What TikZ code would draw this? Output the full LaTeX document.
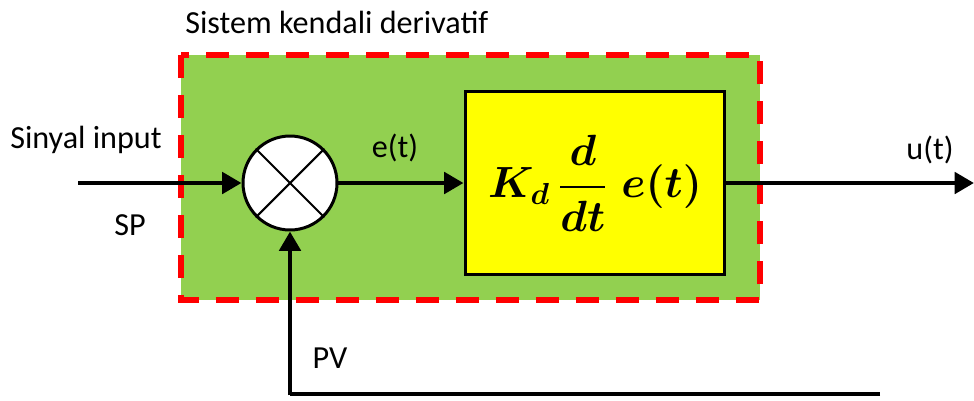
\documentclass[tikz,border=0pt]{standalone}
\usepackage{fontspec}
\setmainfont{Carlito}
\usepackage{amsmath}
\usetikzlibrary{positioning}
\usetikzlibrary{arrows.meta}
\definecolor{green}{RGB}{146,208,80}
\definecolor{red}{RGB}{255,0,0}
\definecolor{yellow}{RGB}{255,255,0}

\begin{document}
\begin{tikzpicture}[x=0.02cm,y=-0.02cm,
  every node/.style={font=\fontsize{18.3}{22}\selectfont},
  sig/.style={line width=2.6pt, -{Triangle[length=11pt,width=12pt]}},
  wire/.style={line width=2.6pt}]

\useasboundingbox (0,0) rectangle (974,400);

%---------------------------------------
% Controller frame
%---------------------------------------
\def\Ys{183}
\fill[green] (181,55) rectangle (760,300);
\draw[red, line width=3.4pt, dash pattern=on 0.46cm off 0.34cm]
  (181,55) rectangle (760,300);
\node[anchor=west, inner sep=0pt] (title) at (185,22) {Sistem kendali derivatif};

%---------------------------------------
% Summing junction and derivative block
%---------------------------------------
\node[circle, draw, fill=white, line width=1.7pt, minimum size=1.88cm, inner sep=0pt]
  (sum) at (290,\Ys) {};
\draw[line width=1.2pt] (sum.north west) -- (sum.south east);
\draw[line width=1.2pt] (sum.north east) -- (sum.south west);

\node[draw, fill=yellow, line width=1.7pt, minimum width=5.2cm, minimum height=3.66cm]
  (kd) at (595,\Ys) {\fontsize{24}{28}\selectfont$\boldsymbol{K_d\,\dfrac{d}{dt}\;e(t)}$};

%---------------------------------------
% Signals
%---------------------------------------
\coordinate (sp) at (78,\Ys);
\coordinate (out) at (974,\Ys);
\coordinate (pv) at (880,394);
\coordinate (corner) at (290,394);

\draw[sig] (sp) -- (sum.west);
\draw[sig] (sum.east) -- (kd.west);
\draw[sig] (kd.east) -- (out);
\draw[wire] (pv) -- (corner);
\draw[sig] ([yshift=-0.75pt]corner) -- (sum.south);

\node (sinyal) at (86,140) {Sinyal input};
\node (splabel) at (130,225) {SP};
\node (elabel) at (395,148) {e(t)};
\node (ulabel) at (930,150) {u(t)};
\node (pvlabel) at (330,358) {PV};

\end{tikzpicture}
\end{document}
